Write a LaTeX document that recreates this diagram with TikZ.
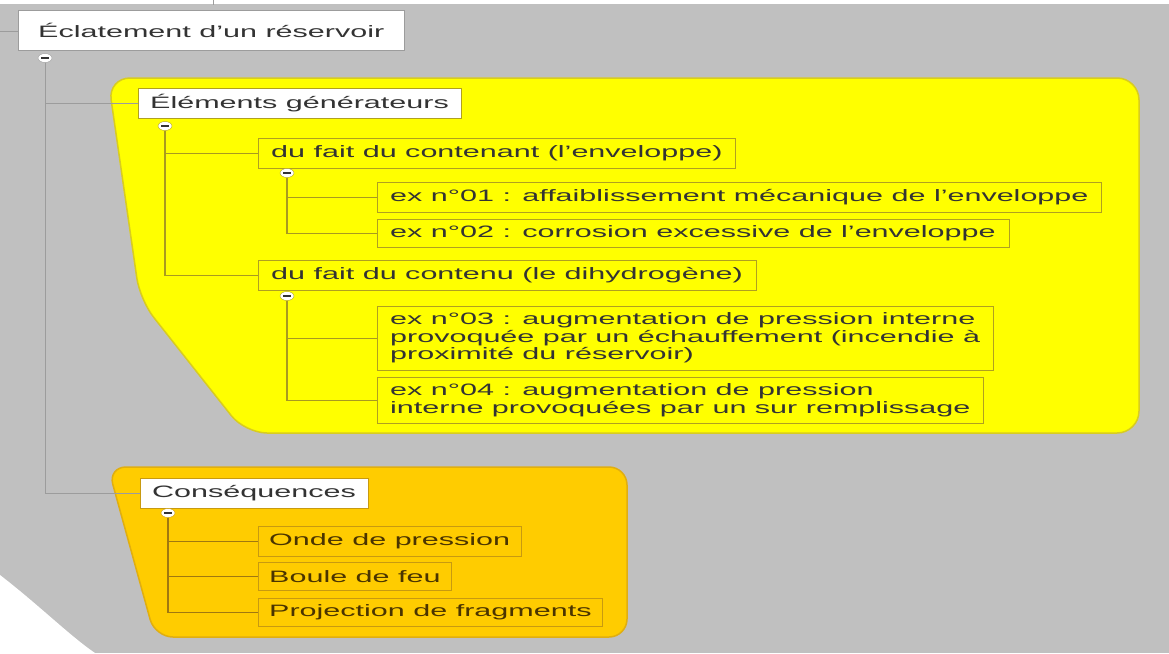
\documentclass[tikz,border=0pt]{standalone}
\usepackage{fontspec}
\setmainfont{Liberation Sans}[FakeStretch=1.85]
\usetikzlibrary{shapes.geometric}
\definecolor{bg}{HTML}{C0C0C0}
\definecolor{yel}{HTML}{FFFF00}
\definecolor{yelrim}{HTML}{D8CC20}
\definecolor{yelbox}{HTML}{B0A020}
\definecolor{yelline}{HTML}{A89A20}
\definecolor{org}{HTML}{FFCC00}
\definecolor{orgrim}{HTML}{E0AE10}
\definecolor{orgbox}{HTML}{C89A10}
\definecolor{orgline}{HTML}{A07810}
\definecolor{rootline}{HTML}{9C9C9C}
\definecolor{txt}{HTML}{333333}
\definecolor{otxt}{HTML}{4A3400}
\begin{document}
\begin{tikzpicture}[x=1pt,y=-1pt,
  every node/.style={font=\fontsize{16.5}{17.5}\selectfont, text=txt},
  rootbox/.style={draw=rootline, fill=white, anchor=north west, inner xsep=20pt, inner ysep=0pt, minimum height=40pt, align=left},
  whitebox/.style={draw=#1, fill=white, anchor=north west, inner xsep=12pt, inner ysep=0pt, minimum height=30pt, align=left},
  ybox/.style={draw=yelbox, fill=yel, anchor=north west, inner xsep=13pt, inner ysep=0pt, minimum height=30pt, align=left},
  obox/.style={draw=orgbox, fill=org, anchor=north west, inner xsep=11pt, inner ysep=0pt, minimum height=28pt, align=left, text=otxt},
  minus/.style={ellipse, draw=#1, fill=white, minimum width=14pt, minimum height=9pt, inner sep=0pt,
    path picture={\draw[line width=1.3pt, txt] ([xshift=-4pt]path picture bounding box.center) -- ([xshift=4pt]path picture bounding box.center);}},
  rline/.style={draw=rootline, line width=0.9pt},
  yline/.style={draw=yelline, line width=1.1pt},
  oline/.style={draw=orgline, line width=1.1pt}
]
\useasboundingbox (0,0) rectangle (1169,653);
\fill[bg] (0,0) rectangle (1169,653);
\fill[white] (0,0) rectangle (1169,4);
\fill[white] (0,575) .. controls (40,606) and (70,636) .. (95,653) -- (0,653) -- cycle;
\draw[rline] (0,31) -- (18,31);
\draw[rline] (213,0) -- (213,5);

% regions
\filldraw[fill=yel, draw=yelrim, line width=1.5pt, rounded corners=22pt]
  (108,78) -- (1139,78) -- (1139,433) -- (245,433) -- (140,300) -- cycle;
\filldraw[fill=org, draw=orgrim, line width=1.5pt, rounded corners=18pt]
  (108,467) -- (627,467) -- (627,637) -- (155,637) -- cycle;

% nodes
\node[rootbox] (root) at (18,10) {Éclatement d'un réservoir};
\node[whitebox=yelbox] (elem) at (138,88) {Éléments générateurs};
\node[ybox] (contenant) at (258,138) {du fait du contenant (l'enveloppe)};
\node[ybox] (ex1) at (377,182) {ex n°01 : affaiblissement mécanique de l'enveloppe};
\node[ybox, minimum height=28pt] (ex2) at (377,219) {ex n°02 : corrosion excessive de l'enveloppe};
\node[ybox] (contenu) at (258,260) {du fait du contenu (le dihydrogène)};
\node[ybox, minimum height=64pt] (ex3) at (377,306) {ex n°03 : augmentation de pression interne\\provoquée par un échauffement (incendie à\\proximité du réservoir)};
\node[ybox, minimum height=46pt] (ex4) at (377,377) {ex n°04 : augmentation de pression\\interne provoquées par un sur remplissage};
\node[whitebox=orgbox] (cons) at (140,478) {Conséquences};
\node[obox, minimum height=30pt] (onde) at (258,526) {Onde de pression};
\node[obox] (boule) at (258,562) {Boule de feu};
\node[obox] (proj) at (258,598) {Projection de fragments};

% toggles
\node[minus=rootline] (rm) at (45,58) {};
\node[minus=yelbox] (em) at (165,126) {};
\node[minus=yelbox] (cm1) at (287,173) {};
\node[minus=yelbox] (cm2) at (287,296) {};
\node[minus=orgbox] (csm) at (168,513) {};

% connectors
\draw[rline] (rm.south) |- (elem.west);
\draw[rline] (rm.south) |- (cons.west);
\draw[yline] (em.south) |- (contenant.west);
\draw[yline] (em.south) |- (contenu.west);
\draw[yline] (cm1.south) |- (ex1.west);
\draw[yline] (cm1.south) |- (ex2.west);
\draw[yline] (cm2.south) |- (ex3.west);
\draw[yline] (cm2.south) |- (ex4.west);
\draw[oline] (csm.south) |- (onde.west);
\draw[oline] (csm.south) |- (boule.west);
\draw[oline] (csm.south) |- (proj.west);
\end{tikzpicture}
\end{document}
